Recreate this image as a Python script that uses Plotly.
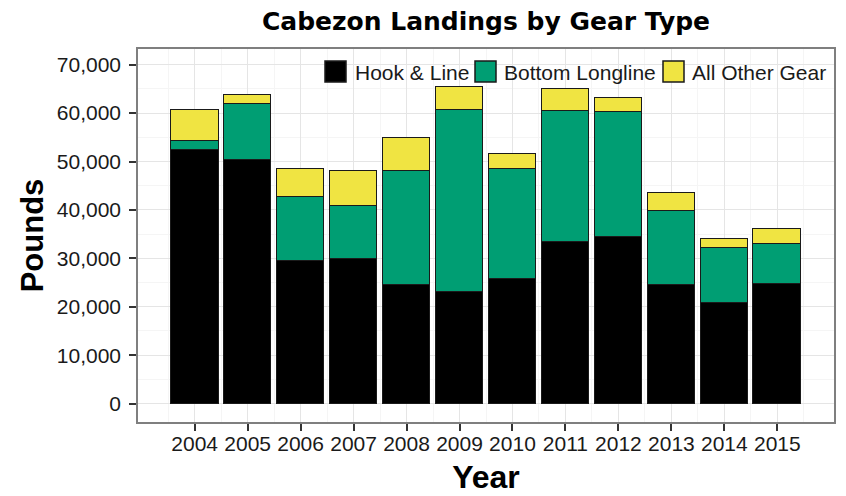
import plotly.graph_objects as go

years = [2004, 2005, 2006, 2007, 2008, 2009, 2010, 2011, 2012, 2013, 2014, 2015]
hook_line = [52400, 50400, 29400, 29800, 24500, 23100, 25700, 33300, 34500, 24500, 20700, 24800]
bottom_longline = [1900, 11400, 13200, 11100, 23600, 37500, 22800, 27200, 25700, 15300, 11500, 8200]
all_other = [6400, 1900, 5800, 7200, 6800, 4700, 3100, 4400, 2900, 3800, 1800, 3100]
series_names = ["Hook & Line", "Bottom Longline", "All Other Gear"]
series_colors = ["#000000", "#009E73", "#F0E442"]
y_ticks = [0, 10000, 20000, 30000, 40000, 50000, 60000, 70000]

# the page body has an 8px default margin, so the figure is drawn 8px in from the window edge
OFF = 8
W, H = 846 - OFF, 496 - OFF
L, R, T = 138 - OFF, 12, 49 - OFF
B = H - (422 - OFF)
PW, PH = W - L - R, H - T - B

def px(xw):
    return (xw - OFF - L) / PW

def py(yw):
    return (H - B - (yw - OFF)) / PH

fig = go.Figure()
for name, vals, col in zip(series_names, [hook_line, bottom_longline, all_other], series_colors):
    fig.add_trace(go.Bar(
        x=years, y=vals, name=name, width=0.9,
        marker=dict(color=col, line=dict(color="#1a1a1a", width=1.3)),
        showlegend=False,
    ))

# manual legend (keys + labels) inside panel, top-right
key_left = [325, 475, 663]
text_left = [353, 502, 690]
shapes = []
annotations = []
for i, name in enumerate(series_names):
    shapes.append(dict(type="rect", xref="paper", yref="paper",
                       x0=px(key_left[i]), x1=px(key_left[i] + 21),
                       y0=py(82), y1=py(61),
                       fillcolor=series_colors[i], line=dict(color="#1a1a1a", width=1.5)))
    annotations.append(dict(xref="paper", yref="paper", x=px(text_left[i]), y=py(72.5),
                            xanchor="left", yanchor="middle", showarrow=False, text=name,
                            font=dict(family="Liberation Sans, Arial", size=21, color="#1a1a1a")))

fig.update_layout(
    width=W, height=H,
    margin=dict(l=L, r=R, t=T, b=B, pad=0, autoexpand=False),
    paper_bgcolor="white", plot_bgcolor="white",
    barmode="stack", bargap=0,
    title=dict(text="<b>Cabezon Landings by Gear Type</b>", x=0.5, xref="paper", xanchor="center",
               y=1 - (21 - OFF) / H, yref="container", yanchor="middle", automargin=False,
               font=dict(family="DejaVu Sans", size=25, color="#000000")),
    shapes=shapes, annotations=annotations,
    font=dict(family="Liberation Sans, Arial", color="#1a1a1a"),
)

fig.update_xaxes(
    automargin=False,
    range=[2002.93, 2016.07], tickmode="array", tickvals=years, ticktext=[str(y) for y in years],
    ticks="outside", ticklen=7, tickwidth=2, tickcolor="#333333", ticklabelstandoff=-5,
    tickfont=dict(size=21, color="#1a1a1a"),
    showgrid=True, gridcolor="#e5e5e5", gridwidth=1.2,
    minor=dict(tickmode="array", tickvals=[y - 0.5 for y in years] + [years[-1] + 0.5],
               showgrid=True, gridcolor="#f5f5f5", gridwidth=1, ticks=""),
    showline=True, mirror=True, linecolor="#7f7f7f", linewidth=1.5, zeroline=False,
    title=dict(text="<b>Year</b>", font=dict(size=32, color="#000000"), standoff=12),
)
fig.update_yaxes(
    automargin=False,
    range=[-3810, 73250], tickmode="array", tickvals=y_ticks, tickformat=",d",
    ticks="outside", ticklen=7, tickwidth=2, tickcolor="#333333", ticklabelstandoff=4,
    tickfont=dict(size=21, color="#1a1a1a"),
    showgrid=True, gridcolor="#e5e5e5", gridwidth=1.2,
    minor=dict(tickmode="array", tickvals=[v + 5000 for v in y_ticks[:-1]],
               showgrid=True, gridcolor="#f5f5f5", gridwidth=1, ticks=""),
    showline=True, mirror=True, linecolor="#7f7f7f", linewidth=1.5, zeroline=False,
    title=dict(text="<b>Pounds</b>", font=dict(size=31, color="#000000"), standoff=4),
)

fig.write_html("out.html")
